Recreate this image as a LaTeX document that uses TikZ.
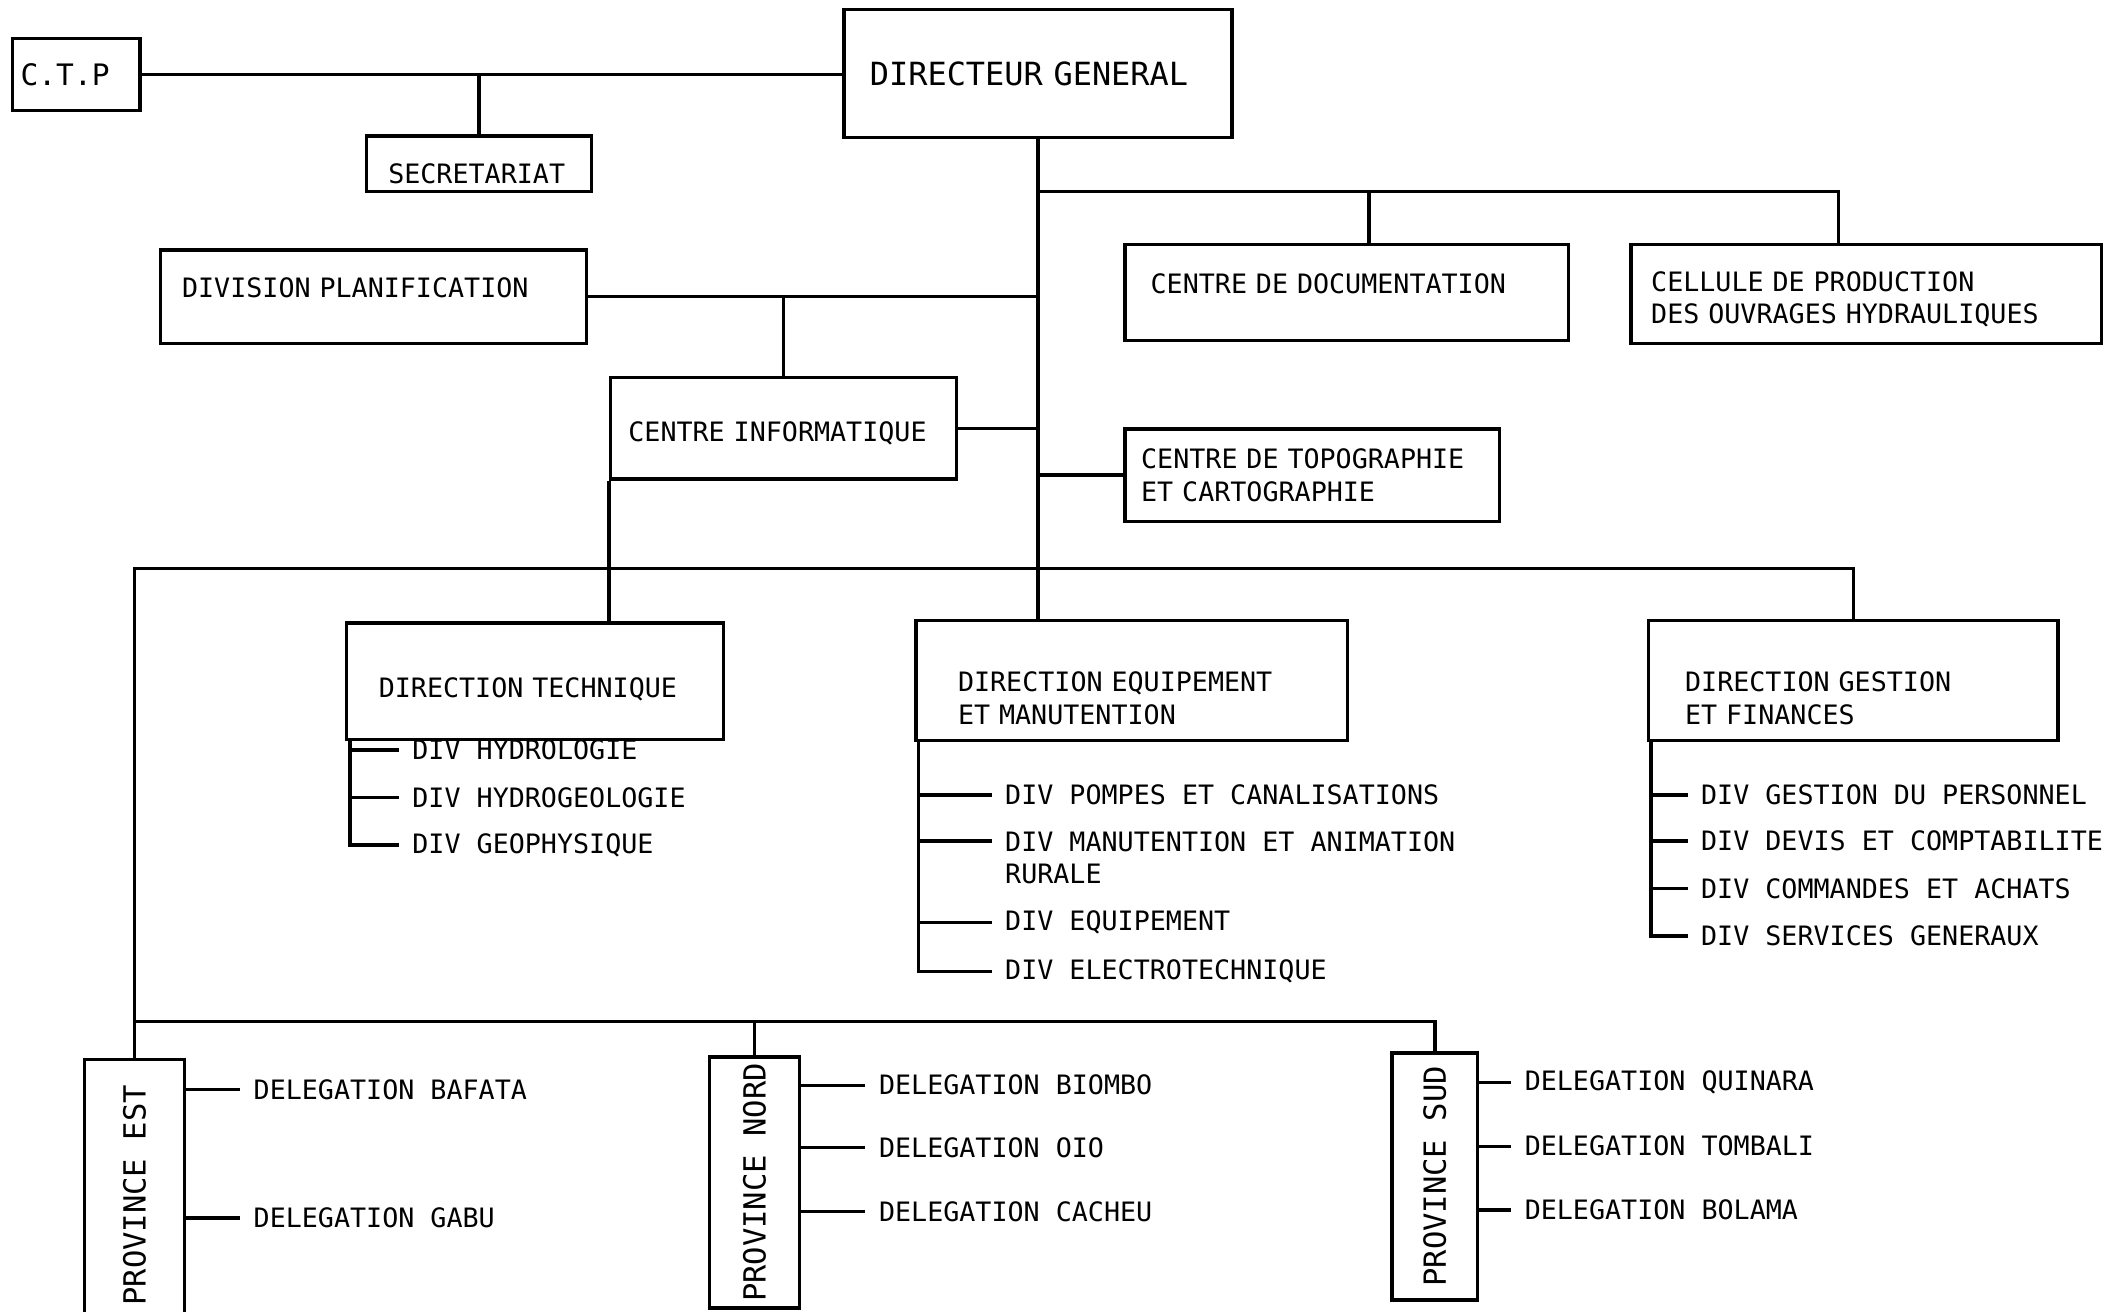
\documentclass[tikz,border=0pt]{standalone}
\usepackage{fontspec}
\setmainfont{DejaVu Sans Mono}
\usepackage{graphicx}
\usetikzlibrary{calc}

\tikzset{
	box/.style={draw, anchor=north west, align=left, font=\fontsize{5.6}{6.8}\selectfont},
	div/.style={anchor=west, inner xsep=2.5pt, align=left, font=\fontsize{5.6}{6.8}\selectfont},
	prov/.style={draw, anchor=north west, inner sep=0pt, font=\fontsize{6.4}{7.6}\selectfont}
}

\begin{document}
\begin{tikzpicture}[x=1cm, y=-1cm, line width=0.7pt]
	\useasboundingbox (0,0) rectangle (15.68,9.67);
	\node[box, minimum height=0.53cm, inner xsep=0.06cm, text width=0.82cm, font=\fontsize{6.2}{7.4}\selectfont] (ctp) at (0.08,0.27) {C.T.P};
	\node[box, minimum height=0.41cm, inner xsep=0.16cm, inner ysep=0pt, text width=1.34cm, text height=0.35cm, text depth=0.06cm] (sec) at (2.69,0.99) {SECRETARIAT};
	\node[box, minimum height=0.94cm, inner xsep=0.19cm, text width=2.48cm, font=\fontsize{6.7}{8}\selectfont] (dg) at (6.21,0.06) {DIRECTEUR GENERAL};
	\node[box, minimum height=0.69cm, inner xsep=0.16cm, text width=2.82cm, text depth=0.14cm] (dp) at (1.17,1.83) {DIVISION PLANIFICATION};
	\node[box, minimum height=0.75cm, inner xsep=0.13cm, text width=2.29cm, text height=0.22cm] (ci) at (4.49,2.77) {CENTRE INFORMATIQUE};
	\node[box, minimum height=0.71cm, inner xsep=0.19cm, text width=2.89cm, text depth=0.13cm] (doc) at (8.28,1.79) {CENTRE DE DOCUMENTATION};
	\node[box, minimum height=0.72cm, inner xsep=0.15cm, text width=3.17cm, text height=0.23cm] (cel) at (12.01,1.79) {CELLULE DE PRODUCTION\\DES OUVRAGES HYDRAULIQUES};
	\node[box, minimum height=0.68cm, inner xsep=0.12cm, text width=2.52cm] (topo) at (8.28,3.15) {CENTRE DE TOPOGRAPHIE\\ET CARTOGRAPHIE};
	\node[box, minimum height=0.86cm, inner xsep=0.24cm, text width=2.30cm, text height=0.27cm] (dt) at (2.54,4.58) {DIRECTION TECHNIQUE};
	\node[box, minimum height=0.87cm, inner xsep=0.31cm, text width=2.56cm, text height=0.41cm] (dem) at (6.74,4.56) {DIRECTION EQUIPEMENT\\ET MANUTENTION};
	\node[box, minimum height=0.86cm, inner xsep=0.27cm, text width=2.48cm, text height=0.41cm] (dgf) at (12.14,4.56) {DIRECTION GESTION\\ET FINANCES};
	\node[prov, minimum width=0.74cm, minimum height=2.0cm] (pe) at (0.61,7.80) {\rotatebox{90}{PROVINCE EST}};
	\node[prov, minimum width=0.66cm, minimum height=1.85cm] (pn) at (5.22,7.78) {\rotatebox{90}{PROVINCE NORD}};
	\node[prov, minimum width=0.63cm, minimum height=1.82cm] (ps) at (10.25,7.75) {\rotatebox{90}{PROVINCE SUD}};

	\node[div] (dt1) at (2.94,5.53) {DIV HYDROLOGIE};
	\node[div] (dt2) at (2.94,5.88) {DIV HYDROGEOLOGIE};
	\node[div] (dt3) at (2.94,6.23) {DIV GEOPHYSIQUE};
	\node[div] (dm1) at (7.31,5.86) {DIV POMPES ET CANALISATIONS};
	\node[div] (dm2) at (7.31,6.325) {DIV MANUTENTION ET ANIMATION\\RURALE};
	\node[div] (dm3) at (7.31,6.80) {DIV EQUIPEMENT};
	\node[div] (dm4) at (7.31,7.16) {DIV ELECTROTECHNIQUE};
	\node[div] (gf1) at (12.44,5.86) {DIV GESTION DU PERSONNEL};
	\node[div] (gf2) at (12.44,6.20) {DIV DEVIS ET COMPTABILITE};
	\node[div] (gf3) at (12.44,6.55) {DIV COMMANDES ET ACHATS};
	\node[div] (gf4) at (12.44,6.90) {DIV SERVICES GENERAUX};
	\node[div] (pe1) at (1.77,8.03) {DELEGATION BAFATA};
	\node[div] (pe2) at (1.77,8.98) {DELEGATION GABU};
	\node[div] (pn1) at (6.38,8.00) {DELEGATION BIOMBO};
	\node[div] (pn2) at (6.38,8.46) {DELEGATION OIO};
	\node[div] (pn3) at (6.38,8.93) {DELEGATION CACHEU};
	\node[div] (ps1) at (11.14,7.98) {DELEGATION QUINARA};
	\node[div] (ps2) at (11.14,8.45) {DELEGATION TOMBALI};
	\node[div] (ps3) at (11.14,8.92) {DELEGATION BOLAMA};

	\coordinate (j1) at (dg.south |- 0,1.41);
	\coordinate (bus) at (0,4.19);
	\coordinate (bus2) at (0,7.53);
	\draw (ctp.east) -- (ctp.east -| dg.west);
	\draw (sec.north) -- (sec.north |- ctp.east);
	\draw (dg.south) -- (dg.south |- dem.north);
	\draw (j1) -| ($(doc.north)+(0.165,0)$);
	\draw (j1) -| ($(cel.north)+(-0.205,0)$);
	\draw (dp.east) -- (dp.east -| dg.south);
	\draw (ci.north) -- (ci.north |- dp.east);
	\draw (ci.east) -- (ci.east -| dg.south);
	\draw (topo.west) -- (topo.west -| dg.south);
	\draw (ci.south west) -- (ci.south west |- dt.north);
	\draw (pe.north) -- (pe.north |- bus) -- (dgf.north |- bus) -- (dgf.north);
	\draw (pe.north |- bus2) -- (ps.north |- bus2) -- (ps.north);
	\draw (pn.north) -- (pn.north |- bus2);

	\foreach \d in {dt1,dt2,dt3}
		\draw ($(dt.south west)+(0.04,0)$) |- (\d.west);
	\foreach \d in {dm1,dm3,dm4}
		\draw ($(dem.south west)+(0.03,0)$) |- (\d.west);
	\draw ($(dem.south west)+(0.03,0)$) |- ($(dm2.west)+(0,-0.125)$);
	\foreach \d in {gf1,gf2,gf3,gf4}
		\draw ($(dgf.south west)+(0.03,0)$) |- (\d.west);
	\foreach \d in {pe1,pe2}
		\draw (pe.east |- \d.west) -- (\d.west);
	\foreach \d in {pn1,pn2,pn3}
		\draw (pn.east |- \d.west) -- (\d.west);
	\foreach \d in {ps1,ps2,ps3}
		\draw (ps.east |- \d.west) -- (\d.west);
\end{tikzpicture}
\end{document}
